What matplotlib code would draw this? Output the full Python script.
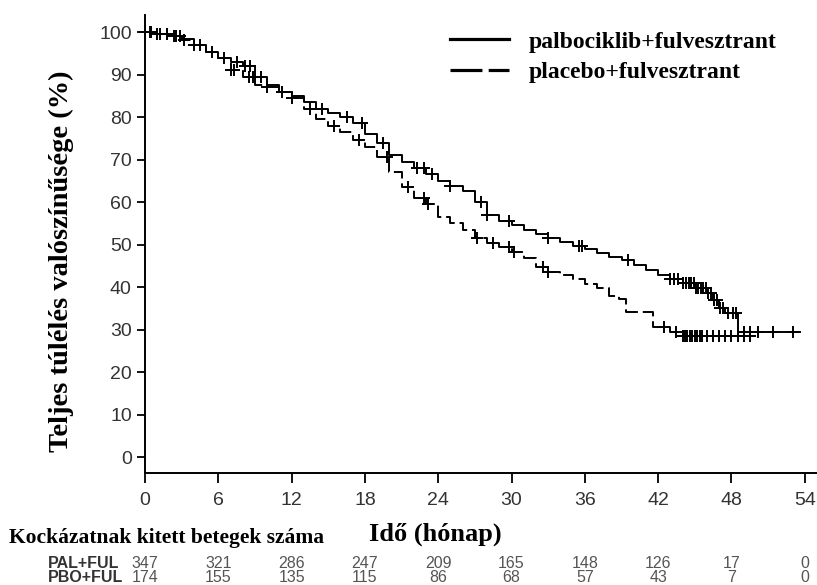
import matplotlib
matplotlib.use('Agg')
import matplotlib.pyplot as plt
from matplotlib.lines import Line2D
import matplotlib.transforms as mtransforms
import numpy as np

# Kaplan-Meier steps (months, % surviving)
pal_t = [0, 1, 2, 3, 4, 5, 6, 7, 8, 9, 10, 11, 12, 13, 14, 15, 16, 17, 18, 19,
         20, 21, 22, 23, 24, 25, 26, 27, 28, 29, 30, 31, 32, 33, 34, 35, 36, 37,
         38, 39, 40, 41, 42, 43, 44, 45, 46, 46.5, 47, 47.5, 48.5, 53.6]
pal_s = [100, 99.5, 99, 98.3, 97, 95.3, 94, 93, 92, 89.5, 87.5, 86, 85, 83.5, 82,
         81, 80, 78.5, 76, 74, 71, 69.5, 68, 66.5, 65, 63.8, 62.5, 60, 57, 55.5,
         54.5, 53.5, 52.5, 51.5, 50.5, 49.6, 49, 48, 47, 46.3, 45.2, 44, 42.8,
         41.8, 41, 39.8, 38.5, 37, 35, 34, 29.5, 29.5]
pal_cens = [0, 0.4, 1.2, 1.8, 2.4, 2.9, 4.5, 6.5, 7.5, 8.2, 8.6, 9.5, 11.2, 14.5,
            16.5, 17.8, 19.5, 22.3, 22.8, 23.5, 25, 27.5, 28, 29.8, 33, 35.5, 35.8,
            39.5, 43, 43.3, 43.6, 44, 44.3, 44.5, 44.7, 44.9, 45.1, 45.3, 45.5,
            45.7, 45.9, 46.1, 46.3, 46.6, 46.8, 47.1, 47.3, 47.7, 48.1, 48.4,
            49, 49.5, 50.2, 51.4, 53]

pbo_t = [0, 1, 2, 3, 4, 5, 6, 7, 8, 9, 10, 11, 12, 13, 14, 15, 16, 17, 18, 19,
         20, 21, 22, 23, 24, 25, 26, 27, 28, 29, 30, 31, 32, 33, 34, 35, 36, 37,
         38, 38.8, 39.4, 41.6, 43, 44, 49.8]
pbo_s = [100, 99.5, 99, 98.2, 97, 95.3, 93.8, 91, 89.5, 87.5, 87, 86, 84.5, 82,
         79.5, 78, 76.5, 74.6, 73, 70.6, 67, 63.5, 61, 59.5, 56.5, 55, 53.5,
         51.5, 50.3, 49.3, 48.2, 46.8, 44.8, 43.5, 42.8, 42, 40.8, 39.8, 38,
         37.2, 34.2, 30.6, 29.4, 28.5, 28.5]
pbo_cens = [0.5, 1, 1.8, 2.5, 3.2, 4, 5.5, 7, 7.3, 8.5, 8.8, 10, 12, 13.5, 15.5,
            17.5, 19.8, 21.5, 22.8, 23.2, 27.2, 28.5, 29.8, 30.2, 32.6, 33,
            42.5, 43.5, 44, 44.2, 44.4, 44.6, 44.8, 45, 45.2, 45.4, 45.6, 46,
            46.5, 47, 47.5, 48, 48.5, 49, 49.5]

risk_times = [0, 6, 12, 18, 24, 30, 36, 42, 48, 54]
risk_pal = [347, 321, 286, 247, 209, 165, 148, 126, 17, 0]
risk_pbo = [174, 155, 135, 115, 86, 68, 57, 43, 7, 0]

labels = ['palbociklib+fulvesztrant', 'placebo+fulvesztrant']
risk_names = ['PAL+FUL', 'PBO+FUL']

serif = 'Liberation Serif'
sans = 'Liberation Sans'
plt.rcParams['font.family'] = sans
plt.rcParams['lines.scale_dashes'] = False

W, H = 817, 585
fig = plt.figure(figsize=(W / 100, H / 100), dpi=100)
ax = fig.add_axes([145 / W, 1 - 473 / H, (817 - 145) / W, (473 - 15) / H])

dash = (0, (10.5, 3.5))


def step_at(t, s, c):
    idx = np.searchsorted(t, c, side='right') - 1
    return np.asarray(s)[idx]


for t, s, cens, ls in [(pal_t, pal_s, pal_cens, '-'), (pbo_t, pbo_s, pbo_cens, dash)]:
    ax.plot(t, s, drawstyle='steps-post', color='black', lw=1.4, linestyle=ls,
            clip_on=False)
    ax.plot(cens, step_at(np.array(t), s, np.array(cens)), linestyle='none',
            marker='+', markersize=8, mew=1.4, color='black', clip_on=False)

ax.set_xlim(0, 55)
ax.set_ylim(-3.76, 104)
ax.set_xticks(risk_times)
ax.set_yticks(range(0, 101, 10))
for sp in ['top', 'right']:
    ax.spines[sp].set_visible(False)
for sp in ['left', 'bottom']:
    ax.spines[sp].set_linewidth(1.4)
ax.tick_params(axis='y', direction='out', length=6, width=1.3, pad=3.5,
               labelsize=14, labelcolor='#333333')
ax.tick_params(axis='x', direction='out', length=7, width=1.3, pad=7,
               labelsize=14, labelcolor='#333333')

fig.text(61 / W, 1 - 261 / H, 'Teljes túlélés valószínűsége (%)', rotation=90,
         ha='center', va='center', family=serif, weight='bold', fontsize=20.5)
fig.text(435 / W, 1 - 541 / H, 'Idő (hónap)', ha='center', va='baseline',
         family=serif, weight='bold', fontsize=19)
fig.text(9 / W, 1 - 543 / H, 'Kockázatnak kitett betegek száma', ha='left',
         va='baseline', family=serif, weight='bold', fontsize=15.5)

handles = [Line2D([], [], color='black', lw=2.3),
           Line2D([], [], color='black', lw=2.3, linestyle=(0, (23, 4.5)))]
ax.legend(handles, labels, loc='upper left', bbox_to_anchor=(450 / W, 1 - 31 / H),
          bbox_transform=fig.transFigure, frameon=False, borderpad=0,
          borderaxespad=0, handlelength=2.5, handletextpad=0.85,
          labelspacing=0.38, prop={'family': serif, 'weight': 'bold', 'size': 17})

trans = mtransforms.blended_transform_factory(ax.transData, fig.transFigure)
for row_y, name, counts in [(1 - 563.5 / H, risk_names[0], risk_pal),
                            (1 - 577.5 / H, risk_names[1], risk_pbo)]:
    fig.text(48 / W, row_y, name, ha='left', va='center', weight='bold',
             fontsize=11.5, color='#333333')
    for tm, n in zip(risk_times, counts):
        ax.text(tm, row_y, str(n), transform=trans, ha='center', va='center',
                fontsize=11.5, color='#555555', clip_on=False)

fig.savefig('out.png', dpi=100)
